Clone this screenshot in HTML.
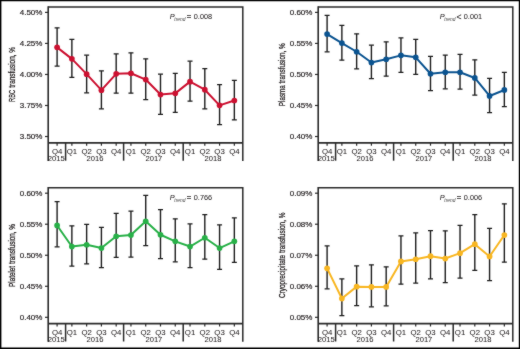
<!DOCTYPE html>
<html><head><meta charset="utf-8"><style>
html,body{margin:0;padding:0;background:#fff;}
body{width:520px;height:349px;overflow:hidden;}
svg{display:block;}
#w{will-change:transform;width:520px;height:349px;}
text{font-family:"Liberation Sans",sans-serif;fill:#231f20;}
.tk{font-size:7.8px;stroke:#231f20;stroke-width:0.04px;}
.yr{font-size:7.6px;stroke:#231f20;stroke-width:0.04px;}
.tky{font-size:8.0px;stroke:#231f20;stroke-width:0.18px;}
.tt{font-size:9.8px;stroke:#231f20;stroke-width:0.3px;}
.pl{font-size:7.3px;stroke:#231f20;stroke-width:0.05px;}
</style></head><body><div id="w">
<svg width="520" height="349" viewBox="0 0 520 349">
<defs><filter id="bl" x="0" y="0" width="520" height="349" filterUnits="userSpaceOnUse" color-interpolation-filters="sRGB"><feConvolveMatrix order="3" kernelMatrix="1 2 1 2 28 2 1 2 1" edgeMode="duplicate"/></filter></defs>
<g filter="url(#bl)">
<rect x="0" y="0" width="520" height="349" fill="#fff"/>
<path d="M0 0H520V1.2H0ZM0 0H1.4V349H0ZM518.8 0H520V349H518.8ZM0 347.4H520V349H0Z" fill="#000"/>
<path d="M48.2 6.9H242.8V161" fill="none" stroke="#2a2a2a" stroke-width="1.5"/>
<path d="M48.2 6.15V161" fill="none" stroke="#2a2a2a" stroke-width="1.6"/>
<path d="M48.2 142.9H242.8" fill="none" stroke="#2a2a2a" stroke-width="1.7"/>
<path d="M65.6 142.9V160.7" stroke="#2a2a2a" stroke-width="1.5"/>
<path d="M123.6 142.9V160.7" stroke="#2a2a2a" stroke-width="1.5"/>
<path d="M183.2 142.9V160.7" stroke="#2a2a2a" stroke-width="1.5"/>
<path d="M45 12.4H48.2" stroke="#2a2a2a" stroke-width="1.2"/>
<text x="42.4" y="15.25" text-anchor="end" class="tky">4.50%</text>
<path d="M45 43.43H48.2" stroke="#2a2a2a" stroke-width="1.2"/>
<text x="42.4" y="46.28" text-anchor="end" class="tky">4.25%</text>
<path d="M45 74.46H48.2" stroke="#2a2a2a" stroke-width="1.2"/>
<text x="42.4" y="77.31" text-anchor="end" class="tky">4.00%</text>
<path d="M45 105.49H48.2" stroke="#2a2a2a" stroke-width="1.2"/>
<text x="42.4" y="108.34" text-anchor="end" class="tky">3.75%</text>
<path d="M45 136.52H48.2" stroke="#2a2a2a" stroke-width="1.2"/>
<text x="42.4" y="139.37" text-anchor="end" class="tky">3.50%</text>
<path d="M57.1 142.9V145.7" stroke="#2a2a2a" stroke-width="1.2"/>
<text x="57.1" y="154.3" text-anchor="middle" class="tk">Q4</text>
<path d="M71.87 142.9V145.7" stroke="#2a2a2a" stroke-width="1.2"/>
<text x="71.87" y="154.3" text-anchor="middle" class="tk">Q1</text>
<path d="M86.64 142.9V145.7" stroke="#2a2a2a" stroke-width="1.2"/>
<text x="86.64" y="154.3" text-anchor="middle" class="tk">Q2</text>
<path d="M101.41 142.9V145.7" stroke="#2a2a2a" stroke-width="1.2"/>
<text x="101.41" y="154.3" text-anchor="middle" class="tk">Q3</text>
<path d="M116.18 142.9V145.7" stroke="#2a2a2a" stroke-width="1.2"/>
<text x="116.18" y="154.3" text-anchor="middle" class="tk">Q4</text>
<path d="M130.95 142.9V145.7" stroke="#2a2a2a" stroke-width="1.2"/>
<text x="130.95" y="154.3" text-anchor="middle" class="tk">Q1</text>
<path d="M145.72 142.9V145.7" stroke="#2a2a2a" stroke-width="1.2"/>
<text x="145.72" y="154.3" text-anchor="middle" class="tk">Q2</text>
<path d="M160.49 142.9V145.7" stroke="#2a2a2a" stroke-width="1.2"/>
<text x="160.49" y="154.3" text-anchor="middle" class="tk">Q3</text>
<path d="M175.26 142.9V145.7" stroke="#2a2a2a" stroke-width="1.2"/>
<text x="175.26" y="154.3" text-anchor="middle" class="tk">Q4</text>
<path d="M190.03 142.9V145.7" stroke="#2a2a2a" stroke-width="1.2"/>
<text x="190.03" y="154.3" text-anchor="middle" class="tk">Q1</text>
<path d="M204.8 142.9V145.7" stroke="#2a2a2a" stroke-width="1.2"/>
<text x="204.8" y="154.3" text-anchor="middle" class="tk">Q2</text>
<path d="M219.57 142.9V145.7" stroke="#2a2a2a" stroke-width="1.2"/>
<text x="219.57" y="154.3" text-anchor="middle" class="tk">Q3</text>
<path d="M234.34 142.9V145.7" stroke="#2a2a2a" stroke-width="1.2"/>
<text x="234.34" y="154.3" text-anchor="middle" class="tk">Q4</text>
<text x="56.3" y="161" text-anchor="middle" class="yr">2015</text>
<text x="95" y="161" text-anchor="middle" class="yr">2016</text>
<text x="153.9" y="161" text-anchor="middle" class="yr">2017</text>
<text x="213" y="161" text-anchor="middle" class="yr">2018</text>
<text transform="translate(15.2 101.9) rotate(-90)" class="tt" textLength="12" lengthAdjust="spacingAndGlyphs">RBC</text>
<text transform="translate(15.2 87.7) rotate(-90)" class="tt" textLength="40.7" lengthAdjust="spacingAndGlyphs">transfusion, %</text>
<text x="169.8" y="19.3" class="pl" font-style="italic">P</text>
<text x="174.3" y="21.3" class="pl" font-style="italic" style="font-size:4.9px;fill:#444;stroke:none">trend</text>
<text x="186.7" y="19.2" class="pl" style="font-size:7.6px;stroke:#231f20;stroke-width:0.25px">=</text>
<text x="193.8" y="19.3" class="pl" style="font-size:7.3px">0.008</text>
<path d="M57.1 27.75V66.05" fill="none" stroke="#1c1c1c" stroke-width="1.4"/>
<path d="M54.6 27.75H59.6M54.6 66.05H59.6" fill="none" stroke="#1c1c1c" stroke-width="1.25"/>
<path d="M71.87 39.25V77.45" fill="none" stroke="#1c1c1c" stroke-width="1.4"/>
<path d="M69.37 39.25H74.37M69.37 77.45H74.37" fill="none" stroke="#1c1c1c" stroke-width="1.25"/>
<path d="M86.64 55.15V92.85" fill="none" stroke="#1c1c1c" stroke-width="1.4"/>
<path d="M84.14 55.15H89.14M84.14 92.85H89.14" fill="none" stroke="#1c1c1c" stroke-width="1.25"/>
<path d="M101.41 70.85V108.85" fill="none" stroke="#1c1c1c" stroke-width="1.4"/>
<path d="M98.91 70.85H103.91M98.91 108.85H103.91" fill="none" stroke="#1c1c1c" stroke-width="1.25"/>
<path d="M116.18 53.95V93.15" fill="none" stroke="#1c1c1c" stroke-width="1.4"/>
<path d="M113.68 53.95H118.68M113.68 93.15H118.68" fill="none" stroke="#1c1c1c" stroke-width="1.25"/>
<path d="M130.95 52.75V93.15" fill="none" stroke="#1c1c1c" stroke-width="1.4"/>
<path d="M128.45 52.75H133.45M128.45 93.15H133.45" fill="none" stroke="#1c1c1c" stroke-width="1.25"/>
<path d="M145.72 58.75V99.55" fill="none" stroke="#1c1c1c" stroke-width="1.4"/>
<path d="M143.22 58.75H148.22M143.22 99.55H148.22" fill="none" stroke="#1c1c1c" stroke-width="1.25"/>
<path d="M160.49 74.15V114.45" fill="none" stroke="#1c1c1c" stroke-width="1.4"/>
<path d="M157.99 74.15H162.99M157.99 114.45H162.99" fill="none" stroke="#1c1c1c" stroke-width="1.25"/>
<path d="M175.26 73.45V112.35" fill="none" stroke="#1c1c1c" stroke-width="1.4"/>
<path d="M172.76 73.45H177.76M172.76 112.35H177.76" fill="none" stroke="#1c1c1c" stroke-width="1.25"/>
<path d="M190.03 61.15V101.15" fill="none" stroke="#1c1c1c" stroke-width="1.4"/>
<path d="M187.53 61.15H192.53M187.53 101.15H192.53" fill="none" stroke="#1c1c1c" stroke-width="1.25"/>
<path d="M204.8 68.65V108.95" fill="none" stroke="#1c1c1c" stroke-width="1.4"/>
<path d="M202.3 68.65H207.3M202.3 108.95H207.3" fill="none" stroke="#1c1c1c" stroke-width="1.25"/>
<path d="M219.57 84.55V124.6" fill="none" stroke="#1c1c1c" stroke-width="1.4"/>
<path d="M217.07 84.55H222.07M217.07 124.6H222.07" fill="none" stroke="#1c1c1c" stroke-width="1.25"/>
<path d="M234.34 80.25V119.95" fill="none" stroke="#1c1c1c" stroke-width="1.4"/>
<path d="M231.84 80.25H236.84M231.84 119.95H236.84" fill="none" stroke="#1c1c1c" stroke-width="1.25"/>
<polyline points="57.1,47.35 71.87,58.85 86.64,74.15 101.41,90.15 116.18,73.85 130.95,73.25 145.72,79.55 160.49,94.55 175.26,93.35 190.03,81.65 204.8,89.7 219.57,105.35 234.34,100.5" fill="none" stroke="#cc1030" stroke-width="2.0" stroke-linejoin="round"/>
<circle cx="57.1" cy="47.35" r="2.85" fill="#cc1030"/>
<circle cx="71.87" cy="58.85" r="2.85" fill="#cc1030"/>
<circle cx="86.64" cy="74.15" r="2.85" fill="#cc1030"/>
<circle cx="101.41" cy="90.15" r="2.85" fill="#cc1030"/>
<circle cx="116.18" cy="73.85" r="2.85" fill="#cc1030"/>
<circle cx="130.95" cy="73.25" r="2.85" fill="#cc1030"/>
<circle cx="145.72" cy="79.55" r="2.85" fill="#cc1030"/>
<circle cx="160.49" cy="94.55" r="2.85" fill="#cc1030"/>
<circle cx="175.26" cy="93.35" r="2.85" fill="#cc1030"/>
<circle cx="190.03" cy="81.65" r="2.85" fill="#cc1030"/>
<circle cx="204.8" cy="89.7" r="2.85" fill="#cc1030"/>
<circle cx="219.57" cy="105.35" r="2.85" fill="#cc1030"/>
<circle cx="234.34" cy="100.5" r="2.85" fill="#cc1030"/>
<path d="M318.2 6.9H512.8V161" fill="none" stroke="#2a2a2a" stroke-width="1.5"/>
<path d="M318.2 6.15V161" fill="none" stroke="#2a2a2a" stroke-width="1.6"/>
<path d="M318.2 142.9H512.8" fill="none" stroke="#2a2a2a" stroke-width="1.7"/>
<path d="M335.6 142.9V160.7" stroke="#2a2a2a" stroke-width="1.5"/>
<path d="M393.6 142.9V160.7" stroke="#2a2a2a" stroke-width="1.5"/>
<path d="M453.2 142.9V160.7" stroke="#2a2a2a" stroke-width="1.5"/>
<path d="M315 12.4H318.2" stroke="#2a2a2a" stroke-width="1.2"/>
<text x="312.4" y="15.25" text-anchor="end" class="tky">0.60%</text>
<path d="M315 43.43H318.2" stroke="#2a2a2a" stroke-width="1.2"/>
<text x="312.4" y="46.28" text-anchor="end" class="tky">0.55%</text>
<path d="M315 74.46H318.2" stroke="#2a2a2a" stroke-width="1.2"/>
<text x="312.4" y="77.31" text-anchor="end" class="tky">0.50%</text>
<path d="M315 105.49H318.2" stroke="#2a2a2a" stroke-width="1.2"/>
<text x="312.4" y="108.34" text-anchor="end" class="tky">0.45%</text>
<path d="M315 136.52H318.2" stroke="#2a2a2a" stroke-width="1.2"/>
<text x="312.4" y="139.37" text-anchor="end" class="tky">0.40%</text>
<path d="M327.1 142.9V145.7" stroke="#2a2a2a" stroke-width="1.2"/>
<text x="327.1" y="154.3" text-anchor="middle" class="tk">Q4</text>
<path d="M341.87 142.9V145.7" stroke="#2a2a2a" stroke-width="1.2"/>
<text x="341.87" y="154.3" text-anchor="middle" class="tk">Q1</text>
<path d="M356.64 142.9V145.7" stroke="#2a2a2a" stroke-width="1.2"/>
<text x="356.64" y="154.3" text-anchor="middle" class="tk">Q2</text>
<path d="M371.41 142.9V145.7" stroke="#2a2a2a" stroke-width="1.2"/>
<text x="371.41" y="154.3" text-anchor="middle" class="tk">Q3</text>
<path d="M386.18 142.9V145.7" stroke="#2a2a2a" stroke-width="1.2"/>
<text x="386.18" y="154.3" text-anchor="middle" class="tk">Q4</text>
<path d="M400.95 142.9V145.7" stroke="#2a2a2a" stroke-width="1.2"/>
<text x="400.95" y="154.3" text-anchor="middle" class="tk">Q1</text>
<path d="M415.72 142.9V145.7" stroke="#2a2a2a" stroke-width="1.2"/>
<text x="415.72" y="154.3" text-anchor="middle" class="tk">Q2</text>
<path d="M430.49 142.9V145.7" stroke="#2a2a2a" stroke-width="1.2"/>
<text x="430.49" y="154.3" text-anchor="middle" class="tk">Q3</text>
<path d="M445.26 142.9V145.7" stroke="#2a2a2a" stroke-width="1.2"/>
<text x="445.26" y="154.3" text-anchor="middle" class="tk">Q4</text>
<path d="M460.03 142.9V145.7" stroke="#2a2a2a" stroke-width="1.2"/>
<text x="460.03" y="154.3" text-anchor="middle" class="tk">Q1</text>
<path d="M474.8 142.9V145.7" stroke="#2a2a2a" stroke-width="1.2"/>
<text x="474.8" y="154.3" text-anchor="middle" class="tk">Q2</text>
<path d="M489.57 142.9V145.7" stroke="#2a2a2a" stroke-width="1.2"/>
<text x="489.57" y="154.3" text-anchor="middle" class="tk">Q3</text>
<path d="M504.34 142.9V145.7" stroke="#2a2a2a" stroke-width="1.2"/>
<text x="504.34" y="154.3" text-anchor="middle" class="tk">Q4</text>
<text x="326.3" y="161" text-anchor="middle" class="yr">2015</text>
<text x="365" y="161" text-anchor="middle" class="yr">2016</text>
<text x="423.9" y="161" text-anchor="middle" class="yr">2017</text>
<text x="483" y="161" text-anchor="middle" class="yr">2018</text>
<text transform="translate(285.2 106.2) rotate(-90)" class="tt" textLength="62.8" lengthAdjust="spacingAndGlyphs">Plasma transfusion, %</text>
<text x="439.8" y="19.3" class="pl" font-style="italic">P</text>
<text x="444.3" y="21.3" class="pl" font-style="italic" style="font-size:4.9px;fill:#444;stroke:none">trend</text>
<text x="456.4" y="19.5" class="pl" style="font-size:8.6px">&lt;</text>
<text x="463.8" y="19.3" class="pl" style="font-size:7.3px">0.001</text>
<path d="M327.1 15.35V51.85" fill="none" stroke="#1c1c1c" stroke-width="1.4"/>
<path d="M324.6 15.35H329.6M324.6 51.85H329.6" fill="none" stroke="#1c1c1c" stroke-width="1.25"/>
<path d="M341.87 25.25V60.15" fill="none" stroke="#1c1c1c" stroke-width="1.4"/>
<path d="M339.37 25.25H344.37M339.37 60.15H344.37" fill="none" stroke="#1c1c1c" stroke-width="1.25"/>
<path d="M356.64 33.75V68.95" fill="none" stroke="#1c1c1c" stroke-width="1.4"/>
<path d="M354.14 33.75H359.14M354.14 68.95H359.14" fill="none" stroke="#1c1c1c" stroke-width="1.25"/>
<path d="M371.41 45.15V78.55" fill="none" stroke="#1c1c1c" stroke-width="1.4"/>
<path d="M368.91 45.15H373.91M368.91 78.55H373.91" fill="none" stroke="#1c1c1c" stroke-width="1.25"/>
<path d="M386.18 41.85V76.15" fill="none" stroke="#1c1c1c" stroke-width="1.4"/>
<path d="M383.68 41.85H388.68M383.68 76.15H388.68" fill="none" stroke="#1c1c1c" stroke-width="1.25"/>
<path d="M400.95 37.95V72.25" fill="none" stroke="#1c1c1c" stroke-width="1.4"/>
<path d="M398.45 37.95H403.45M398.45 72.25H403.45" fill="none" stroke="#1c1c1c" stroke-width="1.25"/>
<path d="M415.72 39.45V74.35" fill="none" stroke="#1c1c1c" stroke-width="1.4"/>
<path d="M413.22 39.45H418.22M413.22 74.35H418.22" fill="none" stroke="#1c1c1c" stroke-width="1.25"/>
<path d="M430.49 56.25V90.55" fill="none" stroke="#1c1c1c" stroke-width="1.4"/>
<path d="M427.99 56.25H432.99M427.99 90.55H432.99" fill="none" stroke="#1c1c1c" stroke-width="1.25"/>
<path d="M445.26 55.05V88.75" fill="none" stroke="#1c1c1c" stroke-width="1.4"/>
<path d="M442.76 55.05H447.76M442.76 88.75H447.76" fill="none" stroke="#1c1c1c" stroke-width="1.25"/>
<path d="M460.03 54.45V89.05" fill="none" stroke="#1c1c1c" stroke-width="1.4"/>
<path d="M457.53 54.45H462.53M457.53 89.05H462.53" fill="none" stroke="#1c1c1c" stroke-width="1.25"/>
<path d="M474.8 59.85V95.05" fill="none" stroke="#1c1c1c" stroke-width="1.4"/>
<path d="M472.3 59.85H477.3M472.3 95.05H477.3" fill="none" stroke="#1c1c1c" stroke-width="1.25"/>
<path d="M489.57 78.25V112.55" fill="none" stroke="#1c1c1c" stroke-width="1.4"/>
<path d="M487.07 78.25H492.07M487.07 112.55H492.07" fill="none" stroke="#1c1c1c" stroke-width="1.25"/>
<path d="M504.34 72.25V106.55" fill="none" stroke="#1c1c1c" stroke-width="1.4"/>
<path d="M501.84 72.25H506.84M501.84 106.55H506.84" fill="none" stroke="#1c1c1c" stroke-width="1.25"/>
<polyline points="327.1,34.05 341.87,43.05 356.64,51.75 371.41,62.55 386.18,59.25 400.95,55.35 415.72,57.3 430.49,73.75 445.26,72.25 460.03,72.25 474.8,77.95 489.57,95.95 504.34,89.95" fill="none" stroke="#0a5390" stroke-width="2.0" stroke-linejoin="round"/>
<circle cx="327.1" cy="34.05" r="2.85" fill="#0a5390"/>
<circle cx="341.87" cy="43.05" r="2.85" fill="#0a5390"/>
<circle cx="356.64" cy="51.75" r="2.85" fill="#0a5390"/>
<circle cx="371.41" cy="62.55" r="2.85" fill="#0a5390"/>
<circle cx="386.18" cy="59.25" r="2.85" fill="#0a5390"/>
<circle cx="400.95" cy="55.35" r="2.85" fill="#0a5390"/>
<circle cx="415.72" cy="57.3" r="2.85" fill="#0a5390"/>
<circle cx="430.49" cy="73.75" r="2.85" fill="#0a5390"/>
<circle cx="445.26" cy="72.25" r="2.85" fill="#0a5390"/>
<circle cx="460.03" cy="72.25" r="2.85" fill="#0a5390"/>
<circle cx="474.8" cy="77.95" r="2.85" fill="#0a5390"/>
<circle cx="489.57" cy="95.95" r="2.85" fill="#0a5390"/>
<circle cx="504.34" cy="89.95" r="2.85" fill="#0a5390"/>
<path d="M48.2 187.7H242.8V341.8" fill="none" stroke="#2a2a2a" stroke-width="1.5"/>
<path d="M48.2 186.95V341.8" fill="none" stroke="#2a2a2a" stroke-width="1.6"/>
<path d="M48.2 323.7H242.8" fill="none" stroke="#2a2a2a" stroke-width="1.7"/>
<path d="M65.6 323.7V341.5" stroke="#2a2a2a" stroke-width="1.5"/>
<path d="M123.6 323.7V341.5" stroke="#2a2a2a" stroke-width="1.5"/>
<path d="M183.2 323.7V341.5" stroke="#2a2a2a" stroke-width="1.5"/>
<path d="M45 193.2H48.2" stroke="#2a2a2a" stroke-width="1.2"/>
<text x="42.4" y="196.05" text-anchor="end" class="tky">0.60%</text>
<path d="M45 224.23H48.2" stroke="#2a2a2a" stroke-width="1.2"/>
<text x="42.4" y="227.08" text-anchor="end" class="tky">0.55%</text>
<path d="M45 255.26H48.2" stroke="#2a2a2a" stroke-width="1.2"/>
<text x="42.4" y="258.11" text-anchor="end" class="tky">0.50%</text>
<path d="M45 286.29H48.2" stroke="#2a2a2a" stroke-width="1.2"/>
<text x="42.4" y="289.14" text-anchor="end" class="tky">0.45%</text>
<path d="M45 317.32H48.2" stroke="#2a2a2a" stroke-width="1.2"/>
<text x="42.4" y="320.17" text-anchor="end" class="tky">0.40%</text>
<path d="M57.1 323.7V326.5" stroke="#2a2a2a" stroke-width="1.2"/>
<text x="57.1" y="335.1" text-anchor="middle" class="tk">Q4</text>
<path d="M71.87 323.7V326.5" stroke="#2a2a2a" stroke-width="1.2"/>
<text x="71.87" y="335.1" text-anchor="middle" class="tk">Q1</text>
<path d="M86.64 323.7V326.5" stroke="#2a2a2a" stroke-width="1.2"/>
<text x="86.64" y="335.1" text-anchor="middle" class="tk">Q2</text>
<path d="M101.41 323.7V326.5" stroke="#2a2a2a" stroke-width="1.2"/>
<text x="101.41" y="335.1" text-anchor="middle" class="tk">Q3</text>
<path d="M116.18 323.7V326.5" stroke="#2a2a2a" stroke-width="1.2"/>
<text x="116.18" y="335.1" text-anchor="middle" class="tk">Q4</text>
<path d="M130.95 323.7V326.5" stroke="#2a2a2a" stroke-width="1.2"/>
<text x="130.95" y="335.1" text-anchor="middle" class="tk">Q1</text>
<path d="M145.72 323.7V326.5" stroke="#2a2a2a" stroke-width="1.2"/>
<text x="145.72" y="335.1" text-anchor="middle" class="tk">Q2</text>
<path d="M160.49 323.7V326.5" stroke="#2a2a2a" stroke-width="1.2"/>
<text x="160.49" y="335.1" text-anchor="middle" class="tk">Q3</text>
<path d="M175.26 323.7V326.5" stroke="#2a2a2a" stroke-width="1.2"/>
<text x="175.26" y="335.1" text-anchor="middle" class="tk">Q4</text>
<path d="M190.03 323.7V326.5" stroke="#2a2a2a" stroke-width="1.2"/>
<text x="190.03" y="335.1" text-anchor="middle" class="tk">Q1</text>
<path d="M204.8 323.7V326.5" stroke="#2a2a2a" stroke-width="1.2"/>
<text x="204.8" y="335.1" text-anchor="middle" class="tk">Q2</text>
<path d="M219.57 323.7V326.5" stroke="#2a2a2a" stroke-width="1.2"/>
<text x="219.57" y="335.1" text-anchor="middle" class="tk">Q3</text>
<path d="M234.34 323.7V326.5" stroke="#2a2a2a" stroke-width="1.2"/>
<text x="234.34" y="335.1" text-anchor="middle" class="tk">Q4</text>
<text x="56.3" y="341.8" text-anchor="middle" class="yr">2015</text>
<text x="95" y="341.8" text-anchor="middle" class="yr">2016</text>
<text x="153.9" y="341.8" text-anchor="middle" class="yr">2017</text>
<text x="213" y="341.8" text-anchor="middle" class="yr">2018</text>
<text transform="translate(15.2 287) rotate(-90)" class="tt" textLength="63" lengthAdjust="spacingAndGlyphs">Platelet transfusion, %</text>
<text x="169.8" y="200.1" class="pl" font-style="italic">P</text>
<text x="174.3" y="202.1" class="pl" font-style="italic" style="font-size:4.9px;fill:#444;stroke:none">trend</text>
<text x="186.7" y="200" class="pl" style="font-size:7.6px;stroke:#231f20;stroke-width:0.25px">=</text>
<text x="193.8" y="200.1" class="pl" style="font-size:7.3px">0.766</text>
<path d="M57.1 201.65V246.85" fill="none" stroke="#1c1c1c" stroke-width="1.4"/>
<path d="M54.6 201.65H59.6M54.6 246.85H59.6" fill="none" stroke="#1c1c1c" stroke-width="1.25"/>
<path d="M71.87 225.75V266.05" fill="none" stroke="#1c1c1c" stroke-width="1.4"/>
<path d="M69.37 225.75H74.37M69.37 266.05H74.37" fill="none" stroke="#1c1c1c" stroke-width="1.25"/>
<path d="M86.64 224.25V263.95" fill="none" stroke="#1c1c1c" stroke-width="1.4"/>
<path d="M84.14 224.25H89.14M84.14 263.95H89.14" fill="none" stroke="#1c1c1c" stroke-width="1.25"/>
<path d="M101.41 227.25V267.55" fill="none" stroke="#1c1c1c" stroke-width="1.4"/>
<path d="M98.91 227.25H103.91M98.91 267.55H103.91" fill="none" stroke="#1c1c1c" stroke-width="1.25"/>
<path d="M116.18 213.45V257.35" fill="none" stroke="#1c1c1c" stroke-width="1.4"/>
<path d="M113.68 213.45H118.68M113.68 257.35H118.68" fill="none" stroke="#1c1c1c" stroke-width="1.25"/>
<path d="M130.95 211.05V257.05" fill="none" stroke="#1c1c1c" stroke-width="1.4"/>
<path d="M128.45 211.05H133.45M128.45 257.05H133.45" fill="none" stroke="#1c1c1c" stroke-width="1.25"/>
<path d="M145.72 195.35V245.65" fill="none" stroke="#1c1c1c" stroke-width="1.4"/>
<path d="M143.22 195.35H148.22M143.22 245.65H148.22" fill="none" stroke="#1c1c1c" stroke-width="1.25"/>
<path d="M160.49 209.55V258.55" fill="none" stroke="#1c1c1c" stroke-width="1.4"/>
<path d="M157.99 209.55H162.99M157.99 258.55H162.99" fill="none" stroke="#1c1c1c" stroke-width="1.25"/>
<path d="M175.26 218.85V261.85" fill="none" stroke="#1c1c1c" stroke-width="1.4"/>
<path d="M172.76 218.85H177.76M172.76 261.85H177.76" fill="none" stroke="#1c1c1c" stroke-width="1.25"/>
<path d="M190.03 223.95V267.55" fill="none" stroke="#1c1c1c" stroke-width="1.4"/>
<path d="M187.53 223.95H192.53M187.53 267.55H192.53" fill="none" stroke="#1c1c1c" stroke-width="1.25"/>
<path d="M204.8 214.65V259.15" fill="none" stroke="#1c1c1c" stroke-width="1.4"/>
<path d="M202.3 214.65H207.3M202.3 259.15H207.3" fill="none" stroke="#1c1c1c" stroke-width="1.25"/>
<path d="M219.57 224.85V269.35" fill="none" stroke="#1c1c1c" stroke-width="1.4"/>
<path d="M217.07 224.85H222.07M217.07 269.35H222.07" fill="none" stroke="#1c1c1c" stroke-width="1.25"/>
<path d="M234.34 217.95V262.45" fill="none" stroke="#1c1c1c" stroke-width="1.4"/>
<path d="M231.84 217.95H236.84M231.84 262.45H236.84" fill="none" stroke="#1c1c1c" stroke-width="1.25"/>
<polyline points="57.1,225.45 71.87,246.55 86.64,244.75 101.41,248.05 116.18,236.25 130.95,235.05 145.72,221.25 160.49,234.75 175.26,241.35 190.03,246.55 204.8,237.75 219.57,248.05 234.34,241.35" fill="none" stroke="#27b047" stroke-width="2.0" stroke-linejoin="round"/>
<circle cx="57.1" cy="225.45" r="2.85" fill="#27b047"/>
<circle cx="71.87" cy="246.55" r="2.85" fill="#27b047"/>
<circle cx="86.64" cy="244.75" r="2.85" fill="#27b047"/>
<circle cx="101.41" cy="248.05" r="2.85" fill="#27b047"/>
<circle cx="116.18" cy="236.25" r="2.85" fill="#27b047"/>
<circle cx="130.95" cy="235.05" r="2.85" fill="#27b047"/>
<circle cx="145.72" cy="221.25" r="2.85" fill="#27b047"/>
<circle cx="160.49" cy="234.75" r="2.85" fill="#27b047"/>
<circle cx="175.26" cy="241.35" r="2.85" fill="#27b047"/>
<circle cx="190.03" cy="246.55" r="2.85" fill="#27b047"/>
<circle cx="204.8" cy="237.75" r="2.85" fill="#27b047"/>
<circle cx="219.57" cy="248.05" r="2.85" fill="#27b047"/>
<circle cx="234.34" cy="241.35" r="2.85" fill="#27b047"/>
<path d="M318.2 187.7H512.8V341.8" fill="none" stroke="#2a2a2a" stroke-width="1.5"/>
<path d="M318.2 186.95V341.8" fill="none" stroke="#2a2a2a" stroke-width="1.6"/>
<path d="M318.2 323.7H512.8" fill="none" stroke="#2a2a2a" stroke-width="1.7"/>
<path d="M335.6 323.7V341.5" stroke="#2a2a2a" stroke-width="1.5"/>
<path d="M393.6 323.7V341.5" stroke="#2a2a2a" stroke-width="1.5"/>
<path d="M453.2 323.7V341.5" stroke="#2a2a2a" stroke-width="1.5"/>
<path d="M315 193.2H318.2" stroke="#2a2a2a" stroke-width="1.2"/>
<text x="312.4" y="196.05" text-anchor="end" class="tky">0.09%</text>
<path d="M315 224.23H318.2" stroke="#2a2a2a" stroke-width="1.2"/>
<text x="312.4" y="227.08" text-anchor="end" class="tky">0.08%</text>
<path d="M315 255.26H318.2" stroke="#2a2a2a" stroke-width="1.2"/>
<text x="312.4" y="258.11" text-anchor="end" class="tky">0.07%</text>
<path d="M315 286.29H318.2" stroke="#2a2a2a" stroke-width="1.2"/>
<text x="312.4" y="289.14" text-anchor="end" class="tky">0.06%</text>
<path d="M315 317.32H318.2" stroke="#2a2a2a" stroke-width="1.2"/>
<text x="312.4" y="320.17" text-anchor="end" class="tky">0.05%</text>
<path d="M327.1 323.7V326.5" stroke="#2a2a2a" stroke-width="1.2"/>
<text x="327.1" y="335.1" text-anchor="middle" class="tk">Q4</text>
<path d="M341.87 323.7V326.5" stroke="#2a2a2a" stroke-width="1.2"/>
<text x="341.87" y="335.1" text-anchor="middle" class="tk">Q1</text>
<path d="M356.64 323.7V326.5" stroke="#2a2a2a" stroke-width="1.2"/>
<text x="356.64" y="335.1" text-anchor="middle" class="tk">Q2</text>
<path d="M371.41 323.7V326.5" stroke="#2a2a2a" stroke-width="1.2"/>
<text x="371.41" y="335.1" text-anchor="middle" class="tk">Q3</text>
<path d="M386.18 323.7V326.5" stroke="#2a2a2a" stroke-width="1.2"/>
<text x="386.18" y="335.1" text-anchor="middle" class="tk">Q4</text>
<path d="M400.95 323.7V326.5" stroke="#2a2a2a" stroke-width="1.2"/>
<text x="400.95" y="335.1" text-anchor="middle" class="tk">Q1</text>
<path d="M415.72 323.7V326.5" stroke="#2a2a2a" stroke-width="1.2"/>
<text x="415.72" y="335.1" text-anchor="middle" class="tk">Q2</text>
<path d="M430.49 323.7V326.5" stroke="#2a2a2a" stroke-width="1.2"/>
<text x="430.49" y="335.1" text-anchor="middle" class="tk">Q3</text>
<path d="M445.26 323.7V326.5" stroke="#2a2a2a" stroke-width="1.2"/>
<text x="445.26" y="335.1" text-anchor="middle" class="tk">Q4</text>
<path d="M460.03 323.7V326.5" stroke="#2a2a2a" stroke-width="1.2"/>
<text x="460.03" y="335.1" text-anchor="middle" class="tk">Q1</text>
<path d="M474.8 323.7V326.5" stroke="#2a2a2a" stroke-width="1.2"/>
<text x="474.8" y="335.1" text-anchor="middle" class="tk">Q2</text>
<path d="M489.57 323.7V326.5" stroke="#2a2a2a" stroke-width="1.2"/>
<text x="489.57" y="335.1" text-anchor="middle" class="tk">Q3</text>
<path d="M504.34 323.7V326.5" stroke="#2a2a2a" stroke-width="1.2"/>
<text x="504.34" y="335.1" text-anchor="middle" class="tk">Q4</text>
<text x="326.3" y="341.8" text-anchor="middle" class="yr">2015</text>
<text x="365" y="341.8" text-anchor="middle" class="yr">2016</text>
<text x="423.9" y="341.8" text-anchor="middle" class="yr">2017</text>
<text x="483" y="341.8" text-anchor="middle" class="yr">2018</text>
<text transform="translate(285.2 297.9) rotate(-90)" class="tt" textLength="85.3" lengthAdjust="spacingAndGlyphs">Cryoprecipitate transfusion, %</text>
<text x="439.8" y="200.1" class="pl" font-style="italic">P</text>
<text x="444.3" y="202.1" class="pl" font-style="italic" style="font-size:4.9px;fill:#444;stroke:none">trend</text>
<text x="456.7" y="200" class="pl" style="font-size:7.6px;stroke:#231f20;stroke-width:0.25px">=</text>
<text x="463.8" y="200.1" class="pl" style="font-size:7.3px">0.006</text>
<path d="M327.1 245.95V288.75" fill="none" stroke="#1c1c1c" stroke-width="1.4"/>
<path d="M324.6 245.95H329.6M324.6 288.75H329.6" fill="none" stroke="#1c1c1c" stroke-width="1.25"/>
<path d="M341.87 278.95V315.55" fill="none" stroke="#1c1c1c" stroke-width="1.4"/>
<path d="M339.37 278.95H344.37M339.37 315.55H344.37" fill="none" stroke="#1c1c1c" stroke-width="1.25"/>
<path d="M356.64 265.85V305.55" fill="none" stroke="#1c1c1c" stroke-width="1.4"/>
<path d="M354.14 265.85H359.14M354.14 305.55H359.14" fill="none" stroke="#1c1c1c" stroke-width="1.25"/>
<path d="M371.41 264.75V306.75" fill="none" stroke="#1c1c1c" stroke-width="1.4"/>
<path d="M368.91 264.75H373.91M368.91 306.75H373.91" fill="none" stroke="#1c1c1c" stroke-width="1.25"/>
<path d="M386.18 266.85V305.75" fill="none" stroke="#1c1c1c" stroke-width="1.4"/>
<path d="M383.68 266.85H388.68M383.68 305.75H388.68" fill="none" stroke="#1c1c1c" stroke-width="1.25"/>
<path d="M400.95 235.95V284.15" fill="none" stroke="#1c1c1c" stroke-width="1.4"/>
<path d="M398.45 235.95H403.45M398.45 284.15H403.45" fill="none" stroke="#1c1c1c" stroke-width="1.25"/>
<path d="M415.72 232.9V283" fill="none" stroke="#1c1c1c" stroke-width="1.4"/>
<path d="M413.22 232.9H418.22M413.22 283H418.22" fill="none" stroke="#1c1c1c" stroke-width="1.25"/>
<path d="M430.49 230.55V278.95" fill="none" stroke="#1c1c1c" stroke-width="1.4"/>
<path d="M427.99 230.55H432.99M427.99 278.95H432.99" fill="none" stroke="#1c1c1c" stroke-width="1.25"/>
<path d="M445.26 230.85V282.65" fill="none" stroke="#1c1c1c" stroke-width="1.4"/>
<path d="M442.76 230.85H447.76M442.76 282.65H447.76" fill="none" stroke="#1c1c1c" stroke-width="1.25"/>
<path d="M460.03 225.45V278.05" fill="none" stroke="#1c1c1c" stroke-width="1.4"/>
<path d="M457.53 225.45H462.53M457.53 278.05H462.53" fill="none" stroke="#1c1c1c" stroke-width="1.25"/>
<path d="M474.8 214.65V270.25" fill="none" stroke="#1c1c1c" stroke-width="1.4"/>
<path d="M472.3 214.65H477.3M472.3 270.25H477.3" fill="none" stroke="#1c1c1c" stroke-width="1.25"/>
<path d="M489.57 228.45V280.55" fill="none" stroke="#1c1c1c" stroke-width="1.4"/>
<path d="M487.07 228.45H492.07M487.07 280.55H492.07" fill="none" stroke="#1c1c1c" stroke-width="1.25"/>
<path d="M504.34 203.75V262.15" fill="none" stroke="#1c1c1c" stroke-width="1.4"/>
<path d="M501.84 203.75H506.84M501.84 262.15H506.84" fill="none" stroke="#1c1c1c" stroke-width="1.25"/>
<polyline points="327.1,268.35 341.87,298.55 356.64,286.65 371.41,286.95 386.18,286.95 400.95,261.45 415.72,259.25 430.49,256.15 445.26,258.55 460.03,253.15 474.8,244.15 489.57,256.45 504.34,235.05" fill="none" stroke="#f8b621" stroke-width="2.0" stroke-linejoin="round"/>
<circle cx="327.1" cy="268.35" r="2.85" fill="#f8b621"/>
<circle cx="341.87" cy="298.55" r="2.85" fill="#f8b621"/>
<circle cx="356.64" cy="286.65" r="2.85" fill="#f8b621"/>
<circle cx="371.41" cy="286.95" r="2.85" fill="#f8b621"/>
<circle cx="386.18" cy="286.95" r="2.85" fill="#f8b621"/>
<circle cx="400.95" cy="261.45" r="2.85" fill="#f8b621"/>
<circle cx="415.72" cy="259.25" r="2.85" fill="#f8b621"/>
<circle cx="430.49" cy="256.15" r="2.85" fill="#f8b621"/>
<circle cx="445.26" cy="258.55" r="2.85" fill="#f8b621"/>
<circle cx="460.03" cy="253.15" r="2.85" fill="#f8b621"/>
<circle cx="474.8" cy="244.15" r="2.85" fill="#f8b621"/>
<circle cx="489.57" cy="256.45" r="2.85" fill="#f8b621"/>
<circle cx="504.34" cy="235.05" r="2.85" fill="#f8b621"/>
</g>
</svg></div>
</body></html>
